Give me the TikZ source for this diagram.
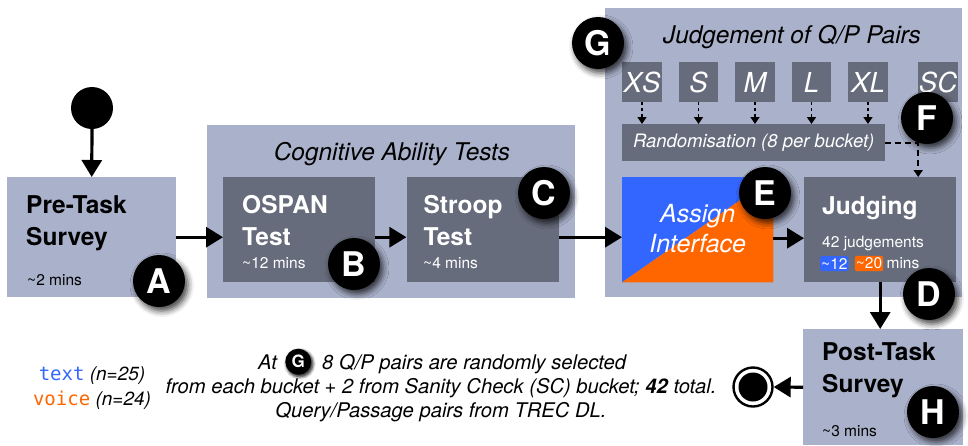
\documentclass[tikz,border=0pt]{standalone}
\usepackage{fontspec}
\setmainfont{TeX Gyre Heros}
\newfontfamily\codefont{DejaVu Sans Mono}
\usepackage{tikz}
\usetikzlibrary{calc,positioning,arrows.meta,shadows.blur}
\definecolor{GroupGrey}{RGB}{170,178,203}
\definecolor{StepGrey}{RGB}{103,108,124}
\definecolor{TextBlue}{RGB}{51,102,255}
\definecolor{VoiceOrange}{RGB}{255,102,0}
\tikzset{
  group/.style={fill=GroupGrey, rectangle, anchor=north west, inner sep=0pt},
  stage/.style={fill=StepGrey, rectangle, anchor=north west, inner sep=0pt, minimum width=152pt, minimum height=105pt},
  bucket/.style={fill=StepGrey, rectangle, inner sep=0pt, minimum width=39.6pt, minimum height=40pt, text=white, font=\itshape\fontsize{27.5}{28}\selectfont},
  heading/.style={align=left, anchor=north west, inner sep=0pt, font=\bfseries\fontsize{24.5}{32}\selectfont},
  grouptitle/.style={anchor=base, inner sep=0pt, font=\itshape\fontsize{24.4}{28}\selectfont},
  duration/.style={anchor=base west, inner sep=0pt, font=\fontsize{15.5}{18}\selectfont},
  chip/.style={rectangle, rounded corners=2pt, inner xsep=1pt, inner ysep=2pt, text=white, font=\fontsize{15.5}{18}\selectfont},
  note/.style={inner sep=0pt, anchor=base, font=\itshape\fontsize{20.2}{24}\selectfont},
  badge/.style={circle, fill=black, text=white, minimum size=52pt, inner sep=0pt, font=\bfseries\fontsize{34}{34}\selectfont,
    blur shadow={shadow xshift=3pt, shadow yshift=-4pt, shadow blur radius=6pt, shadow opacity=75}},
  smallbadge/.style={badge, minimum size=26pt, font=\bfseries\fontsize{17}{17}\selectfont,
    blur shadow={shadow xshift=1.5pt, shadow yshift=-2pt, shadow blur radius=3pt, shadow opacity=60}},
  lineR/.style={draw, line width=3.2pt, -{Triangle[length=17pt, width=20pt]}},
  dottedline/.style={draw, line width=1.6pt, dash pattern=on 3pt off 3pt, -{Triangle[length=7pt, width=9pt]}},
  dashedline/.style={draw, line width=1.6pt, dash pattern=on 6pt off 4pt, -{Triangle[length=7pt, width=9pt]}}
}
\newcommand{\dur}[1]{\textasciitilde#1 mins}

\begin{document}
\begin{tikzpicture}[x=1pt, y=-1pt]
    \useasboundingbox (0,0) rectangle (968,445);
    % groups
    \node [group, minimum width=169pt, minimum height=120pt] (pre) at (7,177) {};
    \node [group, minimum width=368pt, minimum height=173pt] (cog) at (207,125) {};
    \node [group, minimum width=357pt, minimum height=289pt] (jud) at (605,8) {};
    \node [group, minimum width=160pt, minimum height=116pt] (post) at (803,329) {};
    \node [grouptitle] (cogT) at (392,160) {Cognitive Ability Tests};
    \node [grouptitle] (judT) at (792,43) {Judgement of Q/P Pairs};

    % steps
    \node [stage] (ospan) at (223,177) {};
    \node [stage, right=31pt of ospan] (stroop) {};
    \node [stage, minimum width=151pt, fill=none] (assign) at (622,177) {};
    \fill [TextBlue] (assign.south west) -- (assign.north west) -- (assign.north east) -- cycle;
    \fill [VoiceOrange] (assign.south west) -- (assign.north east) -- (assign.south east) -- cycle;
    \node [stage] (judge) at (804,177) {};

    % buckets
    \node [bucket, anchor=north west] (xs) at (622,62) {XS};
    \node [bucket, right=16.5pt of xs] (s) {S};
    \node [bucket, right=16.5pt of s] (m) {M};
    \node [bucket, right=16.5pt of m] (l) {L};
    \node [bucket, right=16.5pt of l] (xl) {XL};
    \node [bucket, right=30pt of xl] (sc) {SC};
    \node [bucket, anchor=north west, minimum width=263pt, minimum height=37pt, font=\itshape\fontsize{18.5}{20}\selectfont] (rand) at (622,124) {Randomisation (8 per bucket)};

    % texts
    \node [heading] (preT) at ($(pre.north west)+(19,18)$) {Pre-Task\\Survey};
    \node [duration] (preD) at (27,285) {\dur{2}};
    \node [heading, text=white] (ospanT) at ($(ospan.north west)+(19,18)$) {OSPAN\\Test};
    \node [duration, text=white] (ospanD) at (242,268) {\dur{12}};
    \node [heading, text=white] (stroopT) at ($(stroop.north west)+(17,18)$) {Stroop\\Test};
    \node [duration, text=white] (stroopD) at (423,268) {\dur{4}};
    \node [align=center, text=white, inner sep=0pt, font=\itshape\fontsize{25}{30}\selectfont] (assignT) at ($(assign.center)+(0,-1)$) {Assign\\Interface};
    \node [heading, text=white] (judgeT) at ($(judge.north west)+(18,19)$) {Judging};
    \node [duration, text=white] (judgeN) at (822,247) {42 judgements};
    \node [chip, fill=TextBlue, anchor=base west] (shortT) at (820,269) {\textasciitilde12};
    \node [chip, fill=VoiceOrange, right=6pt of shortT] (longT) {\textasciitilde20};
    \node [duration, text=white, right=3pt of longT.base east, anchor=base west] (judgeD) {mins};
    \node [heading] (postT) at ($(post.north west)+(19,13)$) {Post-Task\\Survey};
    \node [duration] (postD) at (822,436) {\dur{3}};

    % start and end
    \node [circle, fill=black, minimum size=42pt, inner sep=0pt] (start) at (92,108) {};
    \node [circle, draw=black, line width=2.4pt, fill=white, minimum size=39pt, inner sep=0pt] (finish) at (753,387) {};
    \node [circle, fill=black, minimum size=29pt, inner sep=0pt] (finishC) at (finish.center) {};

    % flow
    \draw [lineR] (start.south) -- (pre.north);
    \draw [lineR] (pre.east) -- (pre.east -| ospan.west);
    \draw [lineR] (ospan.east |- pre.east) -- (stroop.west |- pre.east);
    \draw [lineR] (stroop.east |- pre.east) -- (assign.west |- pre.east);
    \draw [lineR] ($(assign.east |- pre.east)+(0,1)$) -- ($(judge.west |- pre.east)+(0,1)$);
    \draw [lineR] (judge.south) -- (judge.south |- post.north);
    \draw [lineR] (post.west) -- (finish.east);
    \draw [dottedline] (xs.south) -- (xs.south |- rand.north);
    \draw [dottedline] (s.south) -- (s.south |- rand.north);
    \draw [dottedline] (m.south) -- (m.south |- rand.north);
    \draw [dottedline] (l.south) -- (l.south |- rand.north);
    \draw [dottedline] (xl.south) -- (xl.south |- rand.north);
    \coordinate (bend) at ($(rand.east -| judge.north)+(38,0)$);
    \draw [dashedline] (rand.east) -- (bend) -- (bend |- judge.north);

    % note and legend
    \node [note, anchor=base west] (noteA) at (258,369) {At};
    \node [smallbadge, right=8pt of noteA.east] (gSmall) {G};
    \node [note, anchor=base west] (noteB) at (322,369) {8 Q/P pairs are randomly selected};
    \node [note] (noteC) at (441,393) {from each bucket + 2 from Sanity Check (SC) bucket; \textbf{42} total.};
    \node [note] (noteD) at (441,417) {Query/Passage pairs from TREC DL.};
    \node [note, font=\itshape\fontsize{19}{24}\selectfont] (legendT) at (92,380) {{\upshape\codefont\color{TextBlue}text} (n=25)};
    \node [note, font=\itshape\fontsize{19}{24}\selectfont] (legendV) at (92,405) {{\upshape\codefont\color{VoiceOrange}voice} (n=24)};

    % badges
    \node [badge] (bA) at (159,281) {A};
    \node [badge] (bB) at (354,264) {B};
    \node [badge] (bC) at (544,193) {C};
    \node [badge] (bD) at (929,294) {D};
    \node [badge] (bE) at (765,193) {E};
    \node [badge] (bF) at (927,118) {F};
    \node [badge] (bG) at (598,43) {G};
    \node [badge] (bH) at (933,412) {H};
\end{tikzpicture}
\end{document}
